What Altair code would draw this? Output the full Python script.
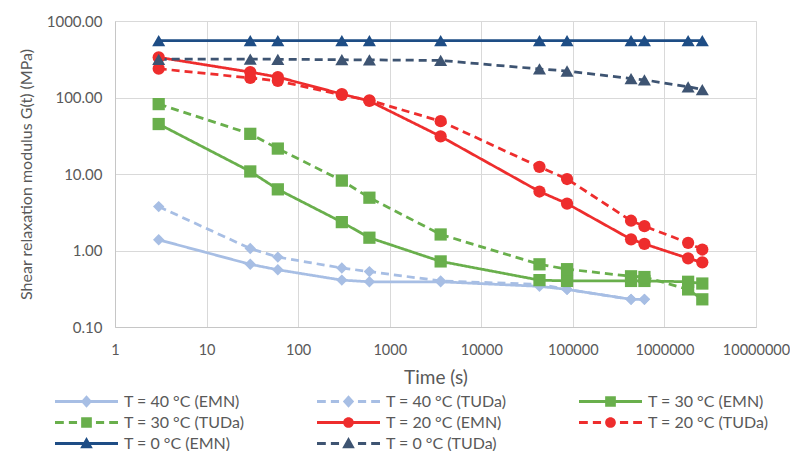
import altair as alt
import pandas as pd

# ---- data ----
times = [3, 30, 60, 300, 600, 3600, 43200, 86400, 432000, 604800, 1814400, 2592000]

series_names = [
    "T = 40 °C (EMN)", "T = 40 °C (TUDa)",
    "T = 30 °C (EMN)", "T = 30 °C (TUDa)",
    "T = 20 °C (EMN)", "T = 20 °C (TUDa)",
    "T = 0 °C (EMN)", "T = 0 °C (TUDa)",
]
markers = ["diamond", "diamond", "square", "square", "circle", "circle", "triangle-up", "triangle-up"]
colors = ["#A7BEE4", "#A7BEE4", "#69AF4C", "#69AF4C", "#EE2D2D", "#EE2D2D", "#1E4D85", "#3E5472"]
dashes = [[1, 0], [8, 5], [1, 0], [8, 5], [1, 0], [8, 5], [1, 0], [8, 5]]

g_40_emn = [1.38, 0.66, 0.56, 0.41, 0.39, 0.39, 0.34, 0.31, 0.23, 0.23]
g_40_tuda = [3.75, 1.06, 0.82, 0.59, 0.53, 0.40, 0.36, 0.31, 0.23, 0.23]
g_30_emn = [45, 10.8, 6.3, 2.35, 1.47, 0.72, 0.41, 0.40, 0.40, 0.40, 0.39, 0.37]
g_30_tuda = [82, 33.5, 21.5, 8.2, 4.9, 1.62, 0.66, 0.57, 0.46, 0.45, 0.31, 0.23]
g_20_emn = [335, 215, 185, 111, 90, 31, 5.9, 4.1, 1.40, 1.22, 0.79, 0.70]
g_20_tuda = [238, 180, 165, 108, 92, 49, 12.4, 8.6, 2.45, 2.08, 1.26, 1.03]
g_0_emn = [555, 555, 555, 555, 555, 555, 555, 555, 555, 555, 555, 555]
g_0_tuda = [316, 318, 316, 312, 310, 305, 236, 222, 177, 170, 138, 127]

values = [g_40_emn, g_40_tuda, g_30_emn, g_30_tuda, g_20_emn, g_20_tuda, g_0_emn, g_0_tuda]

rows = []
for name, mk, vals in zip(series_names, markers, values):
    for t, v in zip(times, vals):
        rows.append({"series": name, "marker": mk, "time": t, "G": v})
df = pd.DataFrame(rows)

# legend symbols: line (solid or dashed) plus the marker, as custom paths
solid = "M-1,-0.05H1V0.05H-1Z"
dashed = ("M-1,-0.05H-0.72V0.05H-1Z M-0.56,-0.05H-0.3V0.05H-0.56Z "
          "M0.3,-0.05H0.56V0.05H0.3Z M0.72,-0.05H1V0.05H0.72Z")
mk_paths = {
    "diamond": "M0,-0.2L0.18,0L0,0.2L-0.18,0Z",
    "square": "M-0.17,-0.17H0.17V0.17H-0.17Z",
    "circle": "M-0.17,0A0.17,0.17 0 1,1 0.17,0A0.17,0.17 0 1,1 -0.17,0Z",
    "triangle-up": "M0,-0.21L0.2,0.15H-0.2Z",
}

# legend is laid out column by column (3 rows): order the domain so it reads row by row
legend_order = [series_names[i] for i in [0, 3, 6, 1, 4, 7, 2, 5]]
idx = {n: i for i, n in enumerate(series_names)}
dom_colors = [colors[idx[n]] for n in legend_order]
dom_dashes = [dashes[idx[n]] for n in legend_order]
dom_paths = [(solid if dashes[idx[n]] == [1, 0] else dashed) + " " + mk_paths[markers[idx[n]]]
             for n in legend_order]

FONT = "Lato"
GREY = "#595959"

x_enc = alt.X(
    "time:Q",
    scale=alt.Scale(type="log", domain=[1, 10000000], nice=False),
    axis=alt.Axis(
        title="Time (s)", values=[1, 10, 100, 1000, 10000, 100000, 1000000, 10000000],
        format="d", labelFontSize=14.5, labelColor=GREY, labelFont=FONT, labelPadding=16,
        titleFontSize=19, titleColor=GREY, titleFont=FONT, titleFontWeight="normal", titlePadding=12,
        grid=True, gridColor="#D9D9D9", domainColor="#C6C6C6", ticks=False,
        labelOverlap=False, labelFlush=False,
    ),
)
y_enc = alt.Y(
    "G:Q",
    scale=alt.Scale(type="log", domain=[0.1, 1000], nice=False),
    axis=alt.Axis(
        title="Shear relaxation modulus G(t) (MPa)", values=[0.1, 1, 10, 100, 1000],
        format=".2f", labelFontSize=15, labelColor=GREY, labelFont=FONT, labelPadding=13,
        titleFontSize=16, titleColor=GREY, titleFont=FONT, titleFontWeight="normal", titlePadding=12,
        grid=True, gridColor="#D9D9D9", domainColor="#C6C6C6", ticks=False,
    ),
)

color_scale = alt.Scale(domain=legend_order, range=dom_colors)

legend_props = dict(
    title=None, orient="none", legendX=-60, legendY=371, columns=3,
    columnPadding=72, rowPadding=2, clipHeight=19, symbolSize=3969,
    symbolOpacity=1, symbolStrokeWidth=0, labelFont=FONT, labelFontSize=16,
    labelColor=GREY, labelOffset=6, padding=0,
)

base = alt.Chart(df)

legend_layer = base.mark_point(filled=True, opacity=0, size=10).encode(
    x=x_enc, y=y_enc,
    color=alt.Color("series:N", scale=color_scale, legend=alt.Legend(**legend_props)),
    shape=alt.Shape("series:N", scale=alt.Scale(domain=legend_order, range=dom_paths),
                    legend=alt.Legend(**legend_props)),
)

lines = base.mark_line(strokeWidth=2.75).encode(
    x=x_enc, y=y_enc,
    color=alt.Color("series:N", scale=color_scale, legend=None),
    strokeDash=alt.StrokeDash("series:N", scale=alt.Scale(domain=legend_order, range=dom_dashes), legend=None),
)

marker_sizes = {"diamond": 130, "square": 150, "circle": 150, "triangle-up": 170}
point_layers = []
for mk in ["diamond", "square", "circle", "triangle-up"]:
    point_layers.append(
        base.transform_filter(alt.datum.marker == mk)
        .mark_point(shape=mk, filled=True, size=marker_sizes[mk], opacity=1)
        .encode(x=x_enc, y=y_enc,
                color=alt.Color("series:N", scale=color_scale, legend=None))
    )

chart = alt.layer(legend_layer, lines, *point_layers).properties(
    width=641, height=306,
    autosize=alt.AutoSizeParams(type="none"),
    padding={"left": 107, "top": 13, "right": 34, "bottom": 124},
).configure_view(stroke=None).configure(background="white")

chart.save("out.html", embed_options={"renderer": "svg", "actions": False})
